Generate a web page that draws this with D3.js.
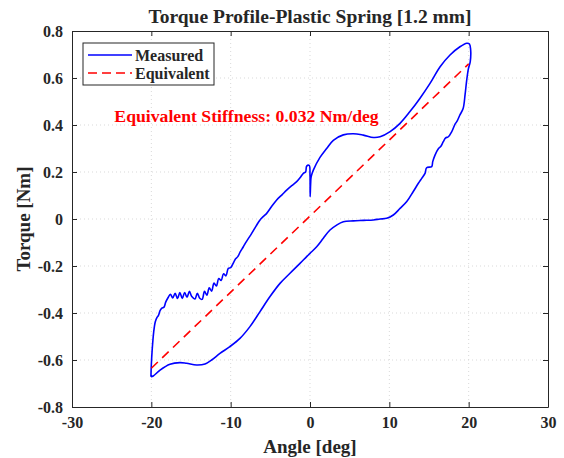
<!DOCTYPE html>
<html>
<head>
<meta charset="utf-8">
<script src="https://cdn.jsdelivr.net/npm/d3@7"></script>
<style>
  body { margin: 0; background: #fff; }
  svg text { font-family: "Liberation Serif", "Times New Roman", serif; font-weight: bold; fill: #262626; }
  .grid line { stroke: #d9d9d9; stroke-dasharray: 1 3; }
  .axis path, .axis line { stroke: #262626; }
</style>
</head>
<body>
<div id="chart"></div>
<script>
// measured loop: angle [deg] and torque [Nm]
const measAngle = [
  -20.05, -20.0, -19.9, -19.7, -19.5, -19.3, -19.1, -18.9, -18.7, -18.4, -18.2, -17.9,
  -17.6, -17.3, -17.0, -16.7, -16.4, -16.1, -15.8, -15.5, -15.2, -14.9, -14.5, -14.2,
  -13.9, -13.6, -13.3, -13.0, -12.7, -12.4, -12.1, -11.8, -11.5, -11.2, -10.9, -10.6,
  -10.3, -10.0, -9.7, -9.4, -9.1, -8.8, -8.4, -8.0, -7.35, -6.8, -6.3, -5.9, -5.46,
  -4.8, -4.2, -3.5, -2.94, -2.3, -1.68, -1.2, -0.84, -0.55, -0.42, -0.1, 0.0, 0.02,
  0.08, 0.15, 0.42, 1.26, 2.1, 2.94, 4.2, 5.46, 6.72, 8.0, 8.83, 10.1, 11.35, 12.6,
  13.87, 15.13, 16.4, 17.65, 18.9, 19.76, 20.1, 20.25, 20.2, 19.97, 19.75, 19.55,
  19.3, 18.9, 18.5, 18.3, 17.87, 17.44, 17.1, 16.8, 16.5, 16.2, 15.76, 15.47, 15.34,
  14.7, 14.5, 14.08, 13.66, 13.0, 12.2, 11.35, 10.5, 9.67, 8.83, 8.0, 6.72, 5.46,
  4.2, 3.36, 2.52, 1.68, 0.84, 0.0, -0.42, -1.26, -2.52, -3.78, -5.04, -6.3, -7.57,
  -8.83, -10.1, -11.35, -12.4, -13.24, -14.3, -15.55, -16.4, -17.65, -18.9, -19.76, -20.05
];
const measTorque = [
  -0.671, -0.62, -0.56, -0.48, -0.437, -0.42, -0.41, -0.39, -0.38, -0.375, -0.355, -0.335,
  -0.32, -0.336, -0.316, -0.338, -0.313, -0.338, -0.313, -0.333, -0.308, -0.33, -0.34, -0.316,
  -0.337, -0.342, -0.308, -0.324, -0.293, -0.307, -0.273, -0.285, -0.253, -0.262, -0.233, -0.242,
  -0.21, -0.207, -0.19, -0.17, -0.16, -0.14, -0.118, -0.095, -0.061, -0.03, -0.004, 0.01, 0.024,
  0.055, 0.081, 0.104, 0.123, 0.142, 0.159, 0.178, 0.194, 0.2, 0.225, 0.228, 0.187, 0.095,
  0.15, 0.18, 0.208, 0.262, 0.3, 0.335, 0.358, 0.363, 0.357, 0.347, 0.35, 0.372, 0.407, 0.457,
  0.514, 0.577, 0.648, 0.698, 0.733, 0.748, 0.745, 0.72, 0.67, 0.64, 0.59, 0.53,
  0.47, 0.443, 0.414, 0.405, 0.372, 0.35, 0.345, 0.329, 0.31, 0.3, 0.272, 0.244, 0.223,
  0.218, 0.194, 0.173, 0.152, 0.116, 0.074, 0.045, 0.017, 0.003, 0.0, -0.004, -0.006, -0.008,
  -0.012, -0.026, -0.047, -0.082, -0.118, -0.146, -0.16, -0.189, -0.231, -0.274, -0.33, -0.394, -0.458,
  -0.508, -0.543, -0.572, -0.6, -0.617, -0.621, -0.614, -0.611, -0.618, -0.643, -0.668, -0.671
];

// equivalent linear spring
const equivAngle = [-20, 20];
const equivTorque = [-0.635, 0.66];

const xTicks = [-30, -20, -10, 0, 10, 20, 30];
const yTicks = [-0.8, -0.6, -0.4, -0.2, 0, 0.2, 0.4, 0.6, 0.8];
const legendLabels = ["Measured", "Equivalent"];
const titleText = "Torque Profile-Plastic Spring [1.2 mm]";
const stiffnessText = "Equivalent Stiffness: 0.032 Nm/deg";

const W = 564, H = 458;
const margin = {top: 31, right: 16, bottom: 51, left: 72};
const w = W - margin.left - margin.right,
      h = H - margin.top - margin.bottom;
const serif = '"Liberation Serif", "Times New Roman", serif';

const svg = d3.select("#chart").append("svg")
    .attr("width", W).attr("height", H)
    .style("background", "#fff");

const g = svg.append("g").attr("transform", `translate(${margin.left},${margin.top})`);

const x = d3.scaleLinear().domain([-30, 30]).range([0, w]);
const y = d3.scaleLinear().domain([-0.8, 0.8]).range([h, 0]);

// grid
g.append("g").attr("class", "grid")
    .selectAll("line").data(xTicks.slice(1, -1)).join("line")
    .attr("x1", d => x(d)).attr("x2", d => x(d)).attr("y1", 0).attr("y2", h);
g.append("g").attr("class", "grid")
    .selectAll("line").data(yTicks.slice(1, -1)).join("line")
    .attr("y1", d => y(d)).attr("y2", d => y(d)).attr("x1", 0).attr("x2", w);

const fmtY = d => d === 0 ? "0" : d3.format(".1f")(d).replace("−", "-");
const fmtX = d => String(d);

const xAxis = g.append("g").attr("class", "axis").attr("transform", `translate(0,${h})`)
    .call(d3.axisBottom(x).tickValues(xTicks).tickFormat(fmtX).tickSize(-5).tickPadding(9).tickSizeOuter(0));
const yAxis = g.append("g").attr("class", "axis")
    .call(d3.axisLeft(y).tickValues(yTicks).tickFormat(fmtY).tickSize(-5).tickPadding(9).tickSizeOuter(0));
g.append("g").attr("class", "axis")
    .call(d3.axisTop(x).tickValues(xTicks).tickFormat("").tickSize(-5).tickSizeOuter(0));
g.append("g").attr("class", "axis").attr("transform", `translate(${w},0)`)
    .call(d3.axisRight(y).tickValues(yTicks).tickFormat("").tickSize(-5).tickSizeOuter(0));

g.selectAll(".axis").attr("font-family", serif).attr("font-size", null);
g.selectAll(".axis text").style("font-family", serif).style("font-size", "16px");
xAxis.selectAll("text").attr("dy", "0.75em");

// data lines
const meas = measAngle.map((a, i) => [a, measTorque[i]]);
const equiv = equivAngle.map((a, i) => [a, equivTorque[i]]);
const line = d3.line().x(d => x(d[0])).y(d => y(d[1]));

g.append("path").datum(meas)
    .attr("fill", "none").attr("stroke", "#0000ff").attr("stroke-width", 1.6)
    .attr("stroke-linejoin", "round")
    .attr("d", line.curve(d3.curveCatmullRom.alpha(0.5)));

g.append("path").datum(equiv)
    .attr("fill", "none").attr("stroke", "#ff0000").attr("stroke-width", 1.6)
    .attr("stroke-dasharray", "9 6")
    .attr("d", d3.line().x(d => x(d[0])).y(d => y(d[1])));

// stiffness annotation
g.append("text")
    .attr("x", x(-8.0)).attr("y", y(0.44))
    .attr("text-anchor", "middle").attr("dy", "0.35em")
    .style("font-size", "17.7px").style("fill", "#ff0000")
    .text(stiffnessText);

// legend
const leg = g.append("g").attr("transform", "translate(11,12)");
leg.append("rect").attr("width", 131).attr("height", 42)
    .attr("fill", "#fff").attr("stroke", "#262626").attr("stroke-width", 1);
const legStyles = [
  {stroke: "#0000ff", dash: null},
  {stroke: "#ff0000", dash: "9 5"}
];
legendLabels.forEach((lab, i) => {
  const yy = 12 + i * 18;
  leg.append("line").attr("x1", 5).attr("x2", 49).attr("y1", yy).attr("y2", yy)
      .attr("stroke", legStyles[i].stroke).attr("stroke-width", 1.6)
      .attr("stroke-dasharray", legStyles[i].dash);
  leg.append("text").attr("x", 52).attr("y", yy).attr("dy", "0.35em")
      .style("font-size", "16px").text(lab);
});

// title and axis labels
svg.append("text").attr("x", margin.left + w / 2).attr("y", 23)
    .attr("text-anchor", "middle").style("font-size", "19.5px").text(titleText);
svg.append("text").attr("x", margin.left + w / 2).attr("y", 453)
    .attr("text-anchor", "middle").style("font-size", "19px").text("Angle [deg]");
svg.append("text").attr("transform", `translate(30,${margin.top + h / 2}) rotate(-90)`)
    .attr("text-anchor", "middle").style("font-size", "19px").text("Torque [Nm]");
</script>
</body>
</html>
